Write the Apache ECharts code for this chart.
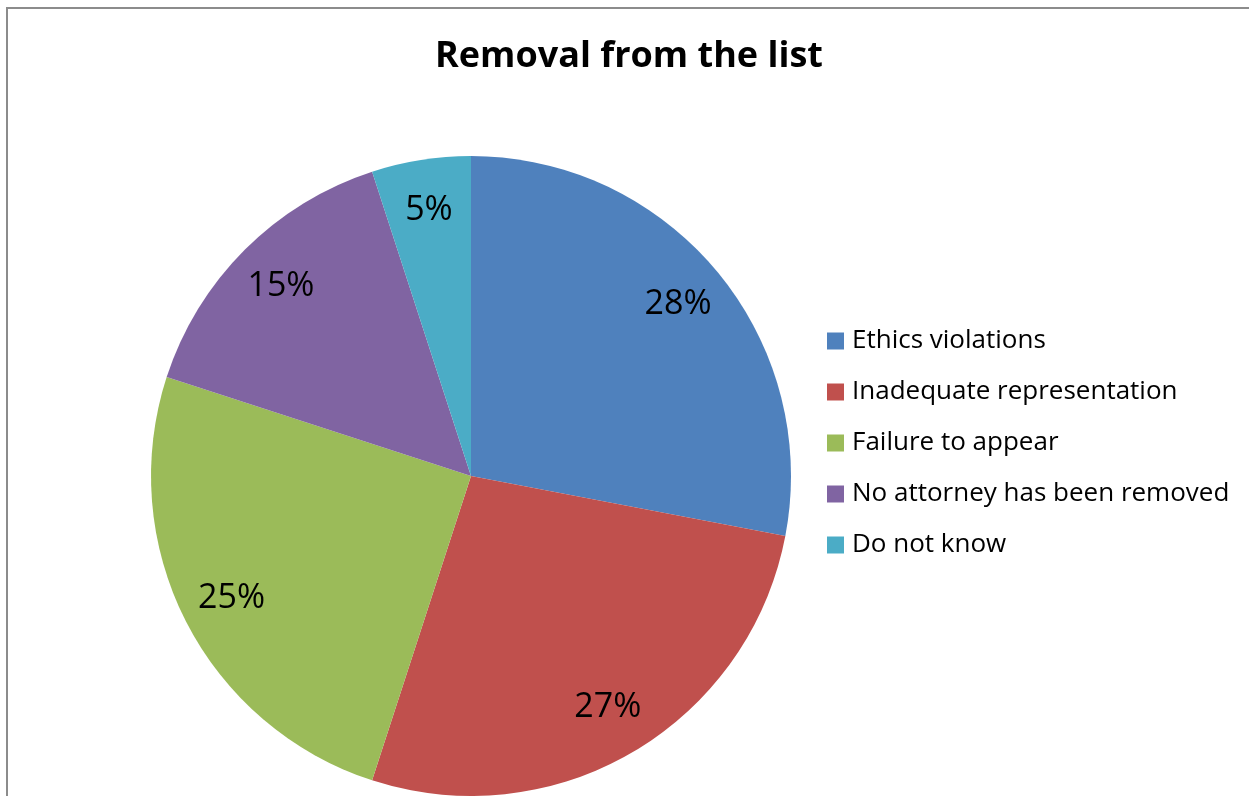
<!DOCTYPE html>
<html>
<head>
<meta charset="utf-8">
<script src="https://cdn.jsdelivr.net/npm/echarts@6/dist/echarts.min.js"></script>
<style>
  html, body { margin: 0; padding: 0; background: #fff; overflow: hidden; }
  #chart { position: absolute; left: 0; top: 0; width: 1249px; height: 796px; }
</style>
</head>
<body>
<div id="chart"></div>
<script>
const categories = [
  'Ethics violations',
  'Inadequate representation',
  'Failure to appear',
  'No attorney has been removed',
  'Do not know'
];
const shares = [28, 27, 25, 15, 5];
const colors = ['#4F81BD', '#C0504D', '#9BBB59', '#8064A2', '#4BACC6'];

const center = [471, 476];
const radius = 320;
const labelRatio = 0.84;
const font = '"Open Sans", "Noto Sans", sans-serif';
const frameColor = '#8c8c8c';

// mid-angle of each slice (clockwise from 12 o'clock), used to place labels
const total = shares.reduce((a, b) => a + b, 0);
const midAngles = [];
let acc = 0;
shares.forEach(v => {
  midAngles.push(((acc + v / 2) / total) * 2 * Math.PI);
  acc += v;
});

const chart = echarts.init(document.getElementById('chart'), null, { renderer: 'canvas' });
chart.setOption({
  animation: false,
  backgroundColor: '#fff',
  // chart-area frame: only its left and top edges fall inside the view
  graphic: [
    { type: 'rect', silent: true, shape: { x: 6, y: 7, width: 2, height: 800 }, style: { fill: frameColor } },
    { type: 'rect', silent: true, shape: { x: 6, y: 7, width: 1260, height: 2 }, style: { fill: frameColor } }
  ],
  title: {
    text: 'Removal from the list',
    left: 629,
    top: 39,
    padding: 0,
    textAlign: 'center',
    textStyle: { fontFamily: font, fontWeight: 'bold', fontSize: 36, color: '#000' }
  },
  legend: {
    orient: 'vertical',
    left: 827,
    top: 328,
    padding: 0,
    itemWidth: 17,
    itemHeight: 17,
    itemGap: 25,
    icon: 'rect',
    selectedMode: false,
    data: categories,
    textStyle: { fontFamily: font, fontSize: 26, color: '#000', lineHeight: 26, padding: [0, 0, 0, 3] }
  },
  series: [{
    type: 'pie',
    center: center,
    radius: [0, radius],
    startAngle: 90,
    clockwise: true,
    silent: true,
    data: categories.map((name, i) => ({
      name: name,
      value: shares[i],
      itemStyle: { color: colors[i] }
    })),
    label: {
      show: true,
      position: 'inside',
      formatter: p => p.value + '%',
      fontFamily: font,
      fontSize: 34,
      color: '#000'
    },
    labelLine: { show: false },
    labelLayout: params => {
      const a = midAngles[params.dataIndex];
      return {
        x: center[0] + radius * labelRatio * Math.sin(a),
        y: center[1] - radius * labelRatio * Math.cos(a)
      };
    }
  }]
});
</script>
</body>
</html>
